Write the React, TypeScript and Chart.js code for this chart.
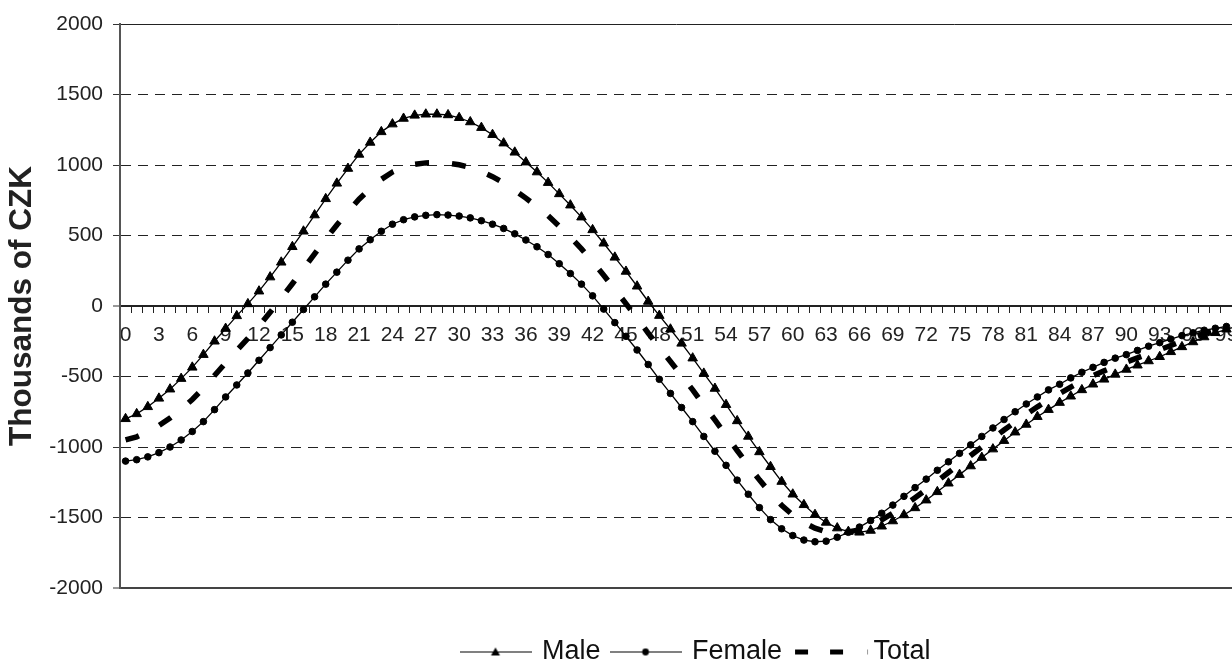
import React, { useEffect, useRef } from 'react';
import { Chart, registerables } from 'chart.js';

Chart.register(...registerables);

const AGES = [
  0, 1, 2, 3, 4, 5, 6, 7, 8, 9,
  10, 11, 12, 13, 14, 15, 16, 17, 18, 19,
  20, 21, 22, 23, 24, 25, 26, 27, 28, 29,
  30, 31, 32, 33, 34, 35, 36, 37, 38, 39,
  40, 41, 42, 43, 44, 45, 46, 47, 48, 49,
  50, 51, 52, 53, 54, 55, 56, 57, 58, 59,
  60, 61, 62, 63, 64, 65, 66, 67, 68, 69,
  70, 71, 72, 73, 74, 75, 76, 77, 78, 79,
  80, 81, 82, 83, 84, 85, 86, 87, 88, 89,
  90, 91, 92, 93, 94, 95, 96, 97, 98, 99,
];

const MALE = [
  -800, -765, -715, -655, -590, -515, -435, -345, -250, -160,
  -70, 15, 105, 205, 310, 420, 530, 645, 760, 870,
  975, 1075, 1160, 1235, 1290, 1330, 1352, 1360, 1360, 1355,
  1335, 1305, 1265, 1215, 1155, 1090, 1020, 950, 875, 795,
  715, 630, 540, 445, 345, 245, 140, 32, -68, -165,
  -265, -370, -478, -585, -700, -815, -925, -1035, -1140, -1245,
  -1335, -1410, -1480, -1535, -1575, -1600, -1605, -1592, -1562, -1525,
  -1482, -1432, -1377, -1318, -1257, -1196, -1135, -1075, -1015, -955,
  -895, -840, -785, -735, -685, -640, -595, -555, -520, -485,
  -450, -420, -390, -360, -325, -290, -255, -220, -190, -165,
];

const FEMALE = [
  -1100, -1090, -1070, -1040, -1000, -950, -890, -820, -735, -645,
  -560, -475, -385, -295, -205, -115, -25, 65, 155, 240,
  325, 405, 470, 530, 580, 612, 632, 643, 648, 645,
  638, 625, 605, 580, 550, 512, 468, 420, 365, 300,
  230, 155, 72, -22, -118, -215, -312, -415, -520, -620,
  -720, -820, -925, -1030, -1130, -1235, -1335, -1430, -1515, -1580,
  -1628, -1660, -1672, -1668, -1640, -1605, -1568, -1522, -1470, -1412,
  -1350, -1288, -1228, -1165, -1105, -1045, -985, -925, -865, -805,
  -750, -695, -645, -595, -555, -510, -470, -435, -400, -370,
  -345, -315, -285, -260, -235, -210, -190, -172, -158, -145,
];

const TOTAL = [
  -950, -928, -893, -848, -795, -733, -663, -583, -493, -403,
  -315, -230, -140, -45, 55, 158, 265, 370, 475, 575,
  668, 758, 832, 898, 950, 985, 1005, 1015, 1017, 1013,
  1002, 982, 953, 917, 873, 822, 765, 705, 640, 566,
  488, 405, 315, 218, 118, 17, -86, -192, -294, -393,
  -493, -595, -702, -808, -915, -1025, -1130, -1233, -1328, -1413,
  -1482, -1535, -1576, -1602, -1608, -1603, -1587, -1557, -1516, -1469,
  -1416, -1360, -1303, -1242, -1181, -1121, -1060, -1000, -940, -880,
  -823, -768, -715, -665, -620, -575, -533, -495, -460, -428,
  -398, -368, -338, -310, -280, -250, -223, -196, -174, -155,
];

const SERIES_NAMES = ['Male', 'Female', 'Total'];
const Y_TITLE = 'Thousands of CZK';
const Y_MIN = -2000;
const Y_MAX = 2000;
const Y_STEP = 500;
const X_LABEL_EVERY = 3;

const FONT = '"Liberation Sans", Arial, Helvetica, sans-serif';

function makeSymbol(kind: string): HTMLCanvasElement {
  const c = document.createElement('canvas');
  if (kind === 'Total') {
    c.width = 88;
    c.height = 15;
    const g = c.getContext('2d')!;
    g.fillStyle = '#000';
    g.fillRect(12, 5, 13, 5);
    g.fillRect(47, 5, 13, 5);
    g.fillStyle = '#999';
    g.fillRect(84, 5, 1, 5);
    return c;
  }
  c.width = 72;
  c.height = 15;
  const g = c.getContext('2d')!;
  g.fillStyle = '#000';
  g.fillRect(0, 7, 72, 1);
  if (kind === 'Male') {
    g.beginPath();
    g.moveTo(36, 3);
    g.lineTo(31.5, 11);
    g.lineTo(40.5, 11);
    g.closePath();
    g.fill();
  } else {
    g.beginPath();
    g.arc(36, 7.5, 3.4, 0, Math.PI * 2);
    g.fill();
  }
  return c;
}

const legendShift = {
  id: 'legendShift',
  afterLayout(chart: any) {
    const lg = chart.legend;
    if (!lg) return;
    const w = lg.width;
    const h = lg.height;
    lg.left = 450.5;
    lg.right = lg.left + w;
    lg.top = 626.5;
    lg.bottom = lg.top + h;
  },
};

export default function App() {
  const ref = useRef<HTMLCanvasElement>(null);

  useEffect(() => {
    const canvas = ref.current;
    if (!canvas) return;
    const symbols = SERIES_NAMES.map((n) => makeSymbol(n));

    const chart = new Chart(canvas, {
      type: 'line',
      data: {
        labels: AGES,
        datasets: [
          {
            label: SERIES_NAMES[0],
            data: MALE,
            borderColor: '#000',
            borderWidth: 1.3,
            pointStyle: 'triangle',
            pointRadius: 5.5,
            pointBackgroundColor: '#000',
            pointBorderColor: '#000',
            pointBorderWidth: 1,
            tension: 0,
            order: 2,
          },
          {
            label: SERIES_NAMES[1],
            data: FEMALE,
            borderColor: '#000',
            borderWidth: 1.3,
            pointStyle: 'circle',
            pointRadius: 3.3,
            pointBackgroundColor: '#000',
            pointBorderColor: '#000',
            pointBorderWidth: 1,
            tension: 0,
            order: 1,
          },
          {
            label: SERIES_NAMES[2],
            data: TOTAL,
            borderColor: '#000',
            borderWidth: 5.5,
            borderDash: [14, 23],
            borderCapStyle: 'butt',
            pointRadius: 0,
            tension: 0,
            order: 0,
          },
        ],
      },
      options: {
        responsive: false,
        animation: false,
        events: [],
        layout: { padding: { left: 0, right: 28, top: 24, bottom: 26 } },
        scales: {
          x: {
            type: 'category',
            offset: true,
            position: { y: 0 } as any,
            grid: {
              display: true,
              drawOnChartArea: false,
              drawTicks: true,
              tickLength: 6,
              tickColor: '#222',
              tickWidth: 1,
              offset: true,
            },
            border: { display: true, color: '#222', width: 2 },
            ticks: {
              autoSkip: false,
              maxRotation: 0,
              minRotation: 0,
              padding: 11,
              color: '#222',
              font: { family: FONT, size: 21 },
              callback: (_v: any, idx: number) =>
                idx % X_LABEL_EVERY === 0 ? String(AGES[idx]) : '',
            },
          },
          y: {
            type: 'linear',
            position: 'left',
            min: Y_MIN,
            max: Y_MAX,
            afterFit: (s: any) => {
              s.width = 120;
            },
            grid: {
              color: (c: any) => (c.tick && c.tick.value === -2000 ? '#444' : '#222'),
              lineWidth: (c: any) => {
                const v = c.tick ? c.tick.value : undefined;
                if (v === 0) return 0;
                if (v === -2000) return 2;
                return 1;
              },
              drawTicks: true,
              tickLength: 7,
              tickColor: '#333',
              tickWidth: 1,
            },
            border: {
              display: true,
              color: '#555',
              width: 2,
              dash: (c: any) => {
                const v = c.tick ? c.tick.value : undefined;
                return v === undefined || v === 2000 || v === -2000 || v === 0 ? [] : [10, 7];
              },
            },
            ticks: {
              stepSize: Y_STEP,
              padding: 10,
              color: '#222',
              font: { family: FONT, size: 21 },
              callback: (v: any) => String(v),
            },
            title: {
              display: true,
              text: Y_TITLE,
              color: '#222',
              font: { family: FONT, size: 31.5, weight: 'bold' },
              padding: { top: 3, bottom: 0 },
            },
          },
        },
        plugins: {
          tooltip: { enabled: false },
          legend: {
            display: true,
            position: 'bottom',
            align: 'start',
            labels: {
              usePointStyle: true,
              pointStyleWidth: 66,
              padding: 12,
              color: '#111',
              font: { family: FONT, size: 27 },
              generateLabels: () =>
                SERIES_NAMES.map((name, i) => ({
                  text: name,
                  pointStyle: symbols[i] as any,
                  fillStyle: '#000',
                  strokeStyle: '#000',
                  lineWidth: 0,
                  fontColor: '#111',
                  hidden: false,
                  datasetIndex: i,
                })),
            },
          },
        },
      } as any,
      plugins: [legendShift],
    });

    return () => chart.destroy();
  }, []);

  return (
    <div
      style={{
        position: 'fixed',
        left: 0,
        top: 0,
        width: 1232,
        height: 663,
        overflow: 'hidden',
        background: '#fff',
      }}
    >
      <canvas
        ref={ref}
        width={1260}
        height={663}
        style={{ display: 'block', width: 1260, height: 663 }}
      />
    </div>
  );
}
